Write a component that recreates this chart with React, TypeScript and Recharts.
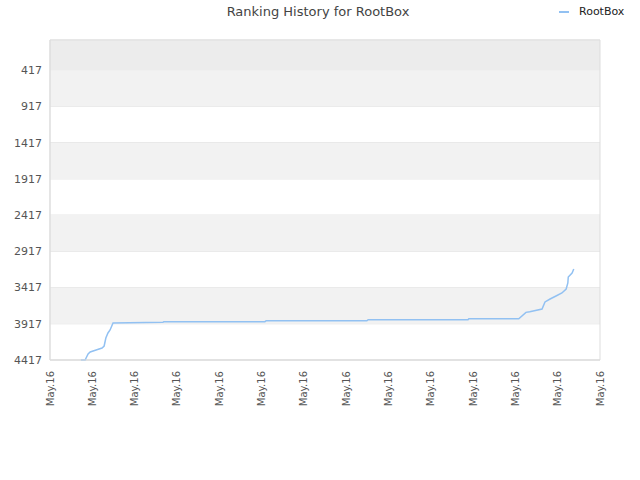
import {
  LineChart,
  Line,
  XAxis,
  YAxis,
  CartesianGrid,
  ReferenceArea,
} from "recharts";

const xTicks = [0, 1, 2, 3, 4, 5, 6, 7, 8, 9, 10, 11, 12, 13];
const xTickLabel = "May.16";
const yTicks = [417, 917, 1417, 1917, 2417, 2917, 3417, 3917, 4417];
const shadedBands = [
  [417, 917],
  [1417, 1917],
  [2417, 2917],
  [3417, 3917],
];

const days = [
  0.73, 0.83, 0.9, 0.95, 1.09, 1.23, 1.28, 1.32, 1.37, 1.42, 1.49, 2.67, 2.69,
  5.08, 5.11, 7.49, 7.52, 9.88, 9.9, 11.08, 11.25, 11.34, 11.63, 11.7, 11.82,
  11.96, 12.1, 12.2, 12.24, 12.25, 12.34, 12.38,
];
const ranks = [
  4417, 4417, 4334, 4307, 4279, 4251, 4224, 4113, 4044, 4003, 3906, 3897, 3888,
  3888, 3875, 3875, 3861, 3861, 3847, 3847, 3759, 3750, 3713, 3616, 3575, 3534,
  3492, 3437, 3354, 3271, 3216, 3161,
];

const data = days.map((d, i) => ({ day: d, rank: ranks[i] }));

const font = "'DejaVu Sans', Verdana, sans-serif";

function XTick(props: any) {
  const { x, y } = props;
  return (
    <text
      x={x}
      y={y}
      transform={`rotate(-90, ${x}, ${y})`}
      textAnchor="end"
      dy="0.35em"
      dx={-3}
      fill="#555"
      fontSize={10}
      fontFamily={font}
    >
      {xTickLabel}
    </text>
  );
}

export default function App() {
  return (
    <div
      style={{
        position: "absolute",
        left: 0,
        top: 0,
        width: 640,
        height: 480,
        background: "#fff",
        fontFamily: font,
      }}
    >
      <div
        style={{
          position: "absolute",
          top: 4,
          left: 0,
          width: 636,
          textAlign: "center",
          fontSize: 13,
          color: "#444",
        }}
      >
        Ranking History for RootBox
      </div>
      <div
        style={{
          position: "absolute",
          top: 5,
          left: 559,
          display: "flex",
          alignItems: "center",
          fontSize: 11,
          color: "#222",
        }}
      >
        <span
          style={{
            display: "inline-block",
            width: 10,
            height: 2,
            background: "#92c1f2",
            marginRight: 10,
          }}
        />
        RootBox
      </div>
      <LineChart
        width={640}
        height={480}
        data={data}
        margin={{ top: 40, right: 40, bottom: 0, left: 0 }}
      >
        <ReferenceArea y1={0} y2={417} fill="#ececec" fillOpacity={1} />
        {shadedBands.map(([a, b]) => (
          <ReferenceArea
            key={a}
            y1={a}
            y2={b}
            fill="#f2f2f2"
            fillOpacity={1}
          />
        ))}
        <CartesianGrid vertical={false} stroke="#e2e2e2" />
        <ReferenceArea
          x1={0}
          x2={13}
          y1={0}
          y2={4417}
          fill="none"
          stroke="#dddddd"
        />
        <XAxis
          dataKey="day"
          type="number"
          domain={[0, 13]}
          ticks={xTicks}
          interval={0}
          height={120}
          tick={<XTick />}
          tickLine={false}
          axisLine={{ stroke: "#dddddd" }}
        />
        <YAxis
          type="number"
          reversed
          domain={[0, 4417]}
          ticks={yTicks}
          interval={0}
          width={50}
          tickLine={false}
          axisLine={{ stroke: "#dddddd" }}
          tick={{ fill: "#555", fontSize: 11, fontFamily: font }}
        />
        <Line
          type="linear"
          dataKey="rank"
          stroke="#92c1f2"
          strokeWidth={1.5}
          dot={false}
          isAnimationActive={false}
        />
      </LineChart>
    </div>
  );
}
